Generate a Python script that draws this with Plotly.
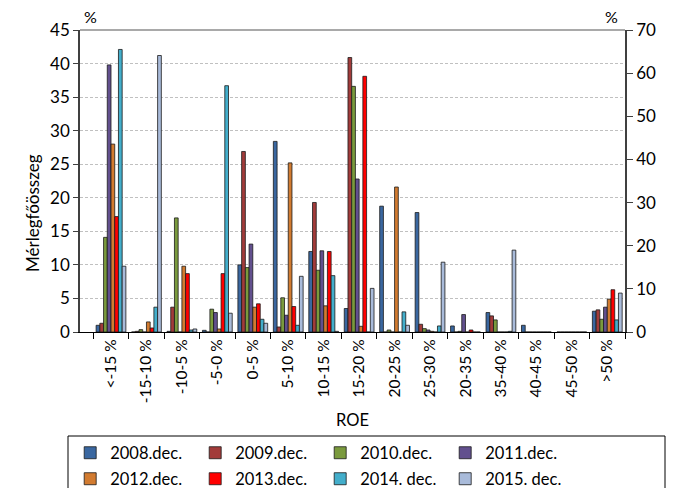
import plotly.graph_objects as go

categories = ["<-15 %", "-15-10 %", "-10-5 %", "-5-0 %", "0-5 %", "5-10 %", "10-15 %",
              "15-20 %", "20-25 %", "25-30 %", "20-35 %", "35-40 %", "40-45 %", "45-50 %", ">50 %"]

s2008 = [1.0, 0.0, 0.1, 0.25, 10.0, 28.4, 12.0, 3.5, 18.75, 17.8, 0.9, 2.9, 1.0, 0, 3.1]
s2009 = [1.3, 0.1, 3.7, 0.0, 26.9, 0.75, 19.3, 40.9, 0.0, 1.15, 0.0, 2.4, 0, 0, 3.3]
s2010 = [14.1, 0.35, 17.0, 3.4, 9.6, 5.1, 9.2, 36.6, 0.3, 0.5, 0.1, 1.8, 0, 0, 1.9]
s2011 = [39.8, 0.0, 0.0, 2.9, 13.1, 2.5, 12.1, 22.8, 0.0, 0.3, 2.6, 0.0, 0, 0, 3.7]
s2012 = [28.0, 1.5, 9.8, 0.45, 3.7, 25.2, 3.9, 0.85, 21.6, 0.1, 0.0, 0.0, 0, 0, 4.9]
s2013 = [17.2, 0.6, 8.7, 8.7, 4.2, 3.8, 12.0, 38.1, 0.0, 0.0, 0.3, 0.0, 0, 0, 6.3]
s2014 = [42.1, 3.7, 0.3, 36.7, 1.9, 1.0, 8.4, 0.0, 3.0, 0.9, 0.0, 0.1, 0, 0, 1.8]
s2015 = [9.8, 41.2, 0.45, 2.8, 1.3, 8.3, 0.1, 6.5, 1.0, 10.4, 0.0, 12.2, 0, 0, 5.8]

series_names = ["2008.dec.", "2009.dec.", "2010.dec.", "2011.dec.",
                "2012.dec.", "2013.dec.", "2014. dec.", "2015. dec."]
series_values = [s2008, s2009, s2010, s2011, s2012, s2013, s2014, s2015]
colors = ["#3A67A0", "#A23B3A", "#7A9A3D", "#62508E", "#D27B30", "#FF0000", "#43AECB", "#A9BBDA"]

FONT = "Lato, Carlito, Calibri, sans-serif"

fig = go.Figure()
for i, (name, vals, col) in enumerate(zip(series_names, series_values, colors)):
    fig.add_trace(go.Bar(
        x=categories, y=vals, name=name,
        legend="legend" if i < 4 else "legend2",
        marker=dict(color=col, line=dict(color="#1a1a1a", width=0.8)),
    ))

# invisible trace to activate secondary axis
fig.add_trace(go.Scatter(x=[categories[0]], y=[None], yaxis="y2",
                         showlegend=False, hoverinfo="skip", mode="markers"))

legend_common = dict(
    orientation="h", xref="container", yref="container",
    x=0.104, xanchor="left", yanchor="middle",
    borderwidth=0, bgcolor="rgba(0,0,0,0)",
    entrywidth=80, entrywidthmode="pixels",
    font=dict(size=16.5), itemclick=False, itemdoubleclick=False,
)

fig.update_layout(
    width=675, height=488,
    margin=dict(l=80, r=50, t=30, b=156),
    paper_bgcolor="white", plot_bgcolor="white",
    barmode="group", bargap=0.16, bargroupgap=0.0,
    font=dict(family=FONT, size=16, color="#000000"),
    xaxis=dict(
        type="category", tickangle=-90, tickson="boundaries",
        ticks="outside", ticklen=6, tickcolor="#000000",
        showline=True, linecolor="#000000", linewidth=1.2,
        showgrid=False, tickfont=dict(size=15.5), automargin=False,
    ),
    yaxis=dict(
        range=[0, 45], dtick=5, tick0=0,
        ticks="outside", ticklen=5, tickcolor="#404040",
        showline=True, linecolor="#404040", linewidth=1.5,
        showgrid=True, gridcolor="#C0C0C0", griddash="3px,2px", gridwidth=1,
        zeroline=False, tickfont=dict(size=17), automargin=False,
    ),
    yaxis2=dict(
        range=[0, 70], dtick=10, tick0=0, overlaying="y", side="right",
        ticks="outside", ticklen=6, tickcolor="#404040",
        showline=True, linecolor="#404040", linewidth=1.5,
        showgrid=False, zeroline=False, tickfont=dict(size=17), automargin=False,
    ),
    legend=dict(y=(488 - 453) / 488, **legend_common),
    legend2=dict(y=(488 - 479) / 488, **legend_common),
    showlegend=True,
)

# top frame line
fig.add_shape(type="line", xref="paper", yref="paper", x0=0, x1=1, y0=1, y1=1,
              line=dict(color="#8C8C8C", width=1.5))
# legend frame
fig.add_shape(type="rect", xref="paper", yref="paper",
              x0=(68 - 80) / 545, x1=(665 - 80) / 545,
              y0=(332 - 436) / 302, y1=(332 - 495) / 302,
              line=dict(color="#000000", width=1))

fig.add_annotation(text="%", xref="paper", yref="paper", x=0.02, y=1.0,
                   xanchor="center", yanchor="bottom", showarrow=False, yshift=2,
                   font=dict(size=16))
fig.add_annotation(text="%", xref="paper", yref="paper", x=0.975, y=1.0,
                   xanchor="center", yanchor="bottom", showarrow=False, yshift=2,
                   font=dict(size=16))
fig.add_annotation(text="Mérlegfőösszeg", xref="paper", yref="paper",
                   x=(32 - 80) / 545, y=(332 - 213) / 302, textangle=-90, showarrow=False,
                   xanchor="center", yanchor="middle", font=dict(size=17))
fig.add_annotation(text="ROE", xref="paper", yref="paper",
                   x=0.5, y=(332 - 420) / 302, showarrow=False,
                   xanchor="center", yanchor="middle", font=dict(size=16.5))

fig.write_html("out.html", config={"displayModeBar": False},
               post_script="document.body.style.margin='0';")
